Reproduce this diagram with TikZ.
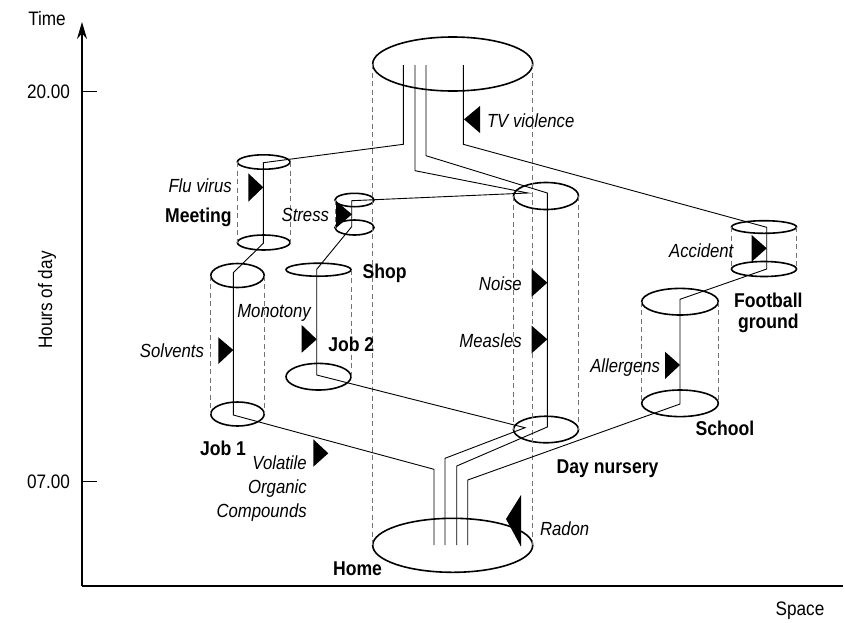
\documentclass[tikz,border=0pt]{standalone}
\usepackage{fontspec}
\setmainfont{Liberation Sans}[FakeStretch=0.88]
\usetikzlibrary{shapes.geometric,arrows.meta}

\begin{document}
\begin{tikzpicture}[x=1pt,y=-1pt]
  \tikzstyle{every node}=[inner sep=0pt, outer sep=0pt, text height=14pt, text depth=0pt]
  \tikzstyle{place}=[draw, shape=ellipse, line width=1.6pt, text height=0pt]
  \tikzstyle{guide}=[draw=black!55, dash pattern=on 5pt off 3.5pt, line width=0.7pt]
  \tikzstyle{track}=[draw, line width=0.9pt]
  \tikzstyle{hazard}=[fill=black]
  \tikzstyle{axislabel}=[font=\fontsize{19.5}{22}\selectfont]
  \tikzstyle{agent}=[font=\fontsize{19}{22}\selectfont\itshape]
  \tikzstyle{site}=[font=\fontsize{20}{22}\selectfont\bfseries]
  \useasboundingbox (0,0) rectangle (845,622);

  % axes
  \coordinate (origin) at (82,586);
  \coordinate (ytop) at (82,22);
  \coordinate (xend) at (843,586);
  \coordinate (t20) at (82,91);
  \coordinate (t20e) at (97,91);
  \coordinate (t07) at (82,481);
  \coordinate (t07e) at (97,481);
  \draw[line width=1.3pt, -{Stealth[length=17pt,width=10pt]}] (origin) -- (ytop);
  \draw[line width=1.3pt] (origin) -- (xend);
  \draw[line width=0.8pt] (t20) -- (t20e);
  \draw[line width=0.8pt] (t07) -- (t07e);
  \node[axislabel] (time) at (47,18) {Time};
  \node[axislabel, anchor=east] (h20) at (70,91) {20.00};
  \node[axislabel, anchor=east] (h07) at (70,481) {07.00};
  \node[axislabel, rotate=90] (hours) at (45,300) {Hours of day};
  \node[axislabel] (space) at (800,608) {Space};

  % places
  \node[place, minimum width=160pt, minimum height=54pt] (eve) at (452.7,64) {};
  \node[place, minimum width=160pt, minimum height=54pt] (home) at (452.7,545.3) {};
  \node[place, minimum width=52.6pt, minimum height=14.4pt] (meet1) at (263.7,162) {};
  \node[place, minimum width=52.6pt, minimum height=15pt] (meet2) at (263.7,242.5) {};
  \node[place, minimum width=53.4pt, minimum height=24pt] (jobA1) at (237.5,275.5) {};
  \node[place, minimum width=53.4pt, minimum height=24pt] (jobA2) at (237.5,414) {};
  \node[place, minimum width=65pt, minimum height=13pt] (jobB1) at (318.5,269.7) {};
  \node[place, minimum width=65pt, minimum height=26.6pt] (jobB2) at (318.5,376.7) {};
  \node[place, minimum width=39pt, minimum height=13.4pt] (shop1) at (354.5,200) {};
  \node[place, minimum width=39pt, minimum height=15pt] (shop2) at (354.5,227.5) {};
  \node[place, minimum width=65pt, minimum height=27pt] (nur1) at (546,196) {};
  \node[place, minimum width=65pt, minimum height=26.5pt] (nur2) at (546,429.5) {};
  \node[place, minimum width=76.6pt, minimum height=26.6pt] (sch1) at (680,301.7) {};
  \node[place, minimum width=76.6pt, minimum height=26.6pt] (sch2) at (680,403.3) {};
  \node[place, minimum width=65pt, minimum height=12.6pt] (foot1) at (764,227) {};
  \node[place, minimum width=65pt, minimum height=15pt] (foot2) at (764,269) {};

  % dashed sides
  \draw[guide] (eve.west) -- (home.west);
  \draw[guide] (eve.east) -- (home.east);
  \draw[guide] (meet1.west) -- (meet2.west);
  \draw[guide] (meet1.east) -- (meet2.east);
  \draw[guide] (jobA1.west) -- (jobA2.west);
  \draw[guide] (jobA1.east) -- (jobA2.east);
  \draw[guide] (jobB1.east) -- (jobB2.east);
  \draw[guide] (shop1.west) -- (shop2.west);
  \draw[guide] (nur1.west) -- (nur2.west);
  \draw[guide] (nur1.east) -- (nur2.east);
  \draw[guide] (sch1.west) -- (sch2.west);
  \draw[guide] (sch1.east) -- (sch2.east);
  \draw[guide] (foot1.west) -- (foot2.west);
  \draw[guide] (foot1.east) -- (foot2.east);

  % path via job 1 and meeting
  \coordinate (a0) at (434,545);
  \coordinate (a1) at (434,469.3);
  \coordinate (a2) at (233.3,415);
  \coordinate (a3) at (233.3,272.7);
  \coordinate (a4) at (263.3,243.3);
  \coordinate (a5) at (263.3,162.7);
  \coordinate (a6) at (403.3,144.3);
  \coordinate (a7) at (403.3,65);
  \draw[track] (a0) -- (a1) -- (a2) -- (a3) -- (a4) -- (a5) -- (a6) -- (a7);
  % path via day nursery, job 2 and shop
  \coordinate (b0) at (445,545);
  \coordinate (b1) at (445,458.3);
  \coordinate (b2) at (525,427.7);
  \coordinate (b3) at (316.7,375);
  \coordinate (b4) at (316.7,269.3);
  \coordinate (b5) at (351.7,226.7);
  \coordinate (b6) at (351.7,200.7);
  \coordinate (b7) at (528,193);
  \coordinate (b8) at (415,170.7);
  \coordinate (b9) at (415,65);
  \draw[track] (b0) -- (b1) -- (b2) -- (b3) -- (b4) -- (b5) -- (b6) -- (b7) -- (b8) -- (b9);
  % path of the infant
  \coordinate (c0) at (456.7,545);
  \coordinate (c1) at (456.7,466);
  \coordinate (c2) at (547.3,427);
  \coordinate (c3) at (547.3,193);
  \coordinate (c4) at (426,155.7);
  \coordinate (c5) at (426,65);
  \draw[track] (c0) -- (c1) -- (c2) -- (c3) -- (c4) -- (c5);
  % path via school and football ground
  \coordinate (d0) at (467.7,545);
  \coordinate (d1) at (467.7,480);
  \coordinate (d2) at (680,404);
  \coordinate (d3) at (680,299.3);
  \coordinate (d4) at (766.7,269);
  \coordinate (d5) at (766.7,227.3);
  \coordinate (d6) at (463.3,144.3);
  \coordinate (d7) at (463.3,65);
  \draw[track] (d0) -- (d1) -- (d2) -- (d3) -- (d4) -- (d5) -- (d6) -- (d7);

  % exposures
  \fill[hazard] (464,119.3) -- (480,106) -- (480,133) -- cycle;
  \fill[hazard] (263.3,187.3) -- (248.3,173.3) -- (248.3,201.7) -- cycle;
  \fill[hazard] (352,214.3) -- (336,201) -- (336,228) -- cycle;
  \fill[hazard] (233.3,350) -- (218.3,337.3) -- (218.3,364) -- cycle;
  \fill[hazard] (316.7,339.3) -- (301.7,325) -- (301.7,352.7) -- cycle;
  \fill[hazard] (547.3,282.7) -- (531.7,269) -- (531.7,296.7) -- cycle;
  \fill[hazard] (547.3,339.3) -- (531.7,325.7) -- (531.7,353.3) -- cycle;
  \fill[hazard] (766.7,248.3) -- (751.7,235) -- (751.7,261.7) -- cycle;
  \fill[hazard] (680,365) -- (665,351.7) -- (665,379) -- cycle;
  \fill[hazard] (328.3,453.3) -- (313.3,439.3) -- (313.3,466.7) -- cycle;
  \fill[hazard] (506,519) -- (521,495) -- (521,546.7) -- cycle;

  % labels
  \node[agent, anchor=west] (tv) at (487,120) {TV violence};
  \node[agent, anchor=east] (flu) at (231.7,185) {Flu virus};
  \node[site, anchor=east] (meeting) at (231.7,215) {Meeting};
  \node[agent, anchor=east] (stress) at (329,214) {Stress};
  \node[site, anchor=west] (shop) at (362.7,271.7) {Shop};
  \node[agent] (monotony) at (274,310) {Monotony};
  \node[agent, anchor=east] (solvents) at (204,350) {Solvents};
  \node[site, anchor=west] (job2) at (328.3,344) {Job 2};
  \node[site] (job1) at (223,448) {Job 1};
  \node[agent, anchor=east] (voc1) at (306.7,462) {Volatile};
  \node[agent, anchor=east] (voc2) at (306.7,486.5) {Organic};
  \node[agent, anchor=east] (voc3) at (306.7,510) {Compounds};
  \node[agent, anchor=east] (noise) at (521.7,283) {Noise};
  \node[agent, anchor=east] (measles) at (521.7,340) {Measles};
  \node[site, anchor=west] (nursery) at (556.7,466.7) {Day nursery};
  \node[agent, anchor=east] (allergens) at (660,365) {Allergens};
  \node[site] (school) at (725,428.3) {School};
  \node[agent, anchor=east] (accident) at (733.3,250) {Accident};
  \node[site] (football) at (768.3,300) {Football};
  \node[site] (ground) at (768.3,321.7) {ground};
  \node[agent, anchor=west] (radon) at (540,528.3) {Radon};
  \node[site] (homelbl) at (357.5,568.3) {Home};
\end{tikzpicture}
\end{document}
